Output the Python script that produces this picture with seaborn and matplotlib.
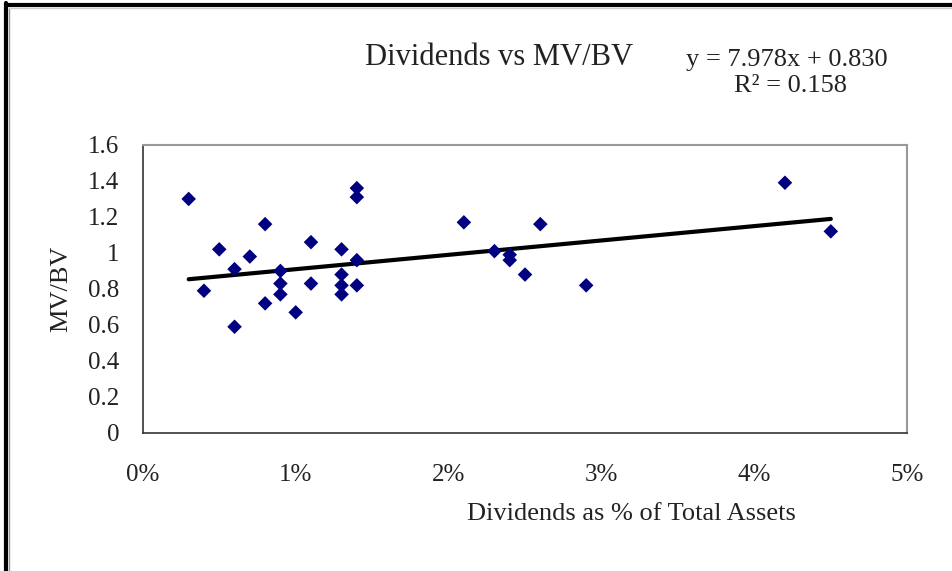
import matplotlib
matplotlib.use("Agg")
import matplotlib.pyplot as plt
import matplotlib.ticker as mticker
from matplotlib.lines import Line2D
import pandas as pd
import seaborn as sns

# 数据：股息占总资产比例 与 MV/BV
dividend_pct = [0.003, 0.004, 0.005, 0.006, 0.006, 0.007, 0.008, 0.008,
                0.009, 0.009, 0.009, 0.010, 0.011, 0.011,
                0.013, 0.013, 0.013, 0.013, 0.014, 0.014, 0.014, 0.014,
                0.021, 0.023, 0.024, 0.024, 0.025, 0.026, 0.029, 0.042, 0.045]
mv_bv = [1.30, 0.79, 1.02, 0.91, 0.59, 0.98, 1.16, 0.72,
         0.90, 0.83, 0.77, 0.67, 1.06, 0.83,
         1.02, 0.88, 0.82, 0.77, 1.36, 1.31, 0.96, 0.82,
         1.17, 1.01, 0.99, 0.96, 0.88, 1.16, 0.82, 1.39, 1.12]

# 图中给出的趋势线方程
slope = 7.978
intercept = 0.830

title_text = "Dividends vs MV/BV"
eq_line = "y = 7.978x + 0.830"
r2_line = "R\u00b2 = 0.158"
x_label = "Dividends as % of Total Assets"
y_label = "MV/BV"

df = pd.DataFrame({"div": dividend_pct, "mvbv": mv_bv})
trend = pd.DataFrame({"div": [min(dividend_pct), max(dividend_pct)]})
trend["mvbv"] = slope * trend["div"] + intercept

sns.set_theme(style="white")
plt.rcParams["font.family"] = ["Liberation Serif", "DejaVu Serif"]

fig = plt.figure(figsize=(9.52, 5.71), dpi=100)
ax = fig.add_axes([0.150, 0.2417, 0.803, 0.5045])

sns.lineplot(data=trend, x="div", y="mvbv", ax=ax, color="black", lw=3, zorder=2)
sns.scatterplot(data=df, x="div", y="mvbv", ax=ax, marker="D", color="#000080",
                s=55, edgecolor="none", alpha=1, zorder=3)

ax.set_xlim(0, 0.05)
ax.set_ylim(0, 1.6)
ax.xaxis.set_major_locator(mticker.MultipleLocator(0.01))
ax.yaxis.set_major_locator(mticker.MultipleLocator(0.2))
ax.xaxis.set_major_formatter(mticker.FuncFormatter(lambda v, p: f"{v*100:.0f}%"))
ax.yaxis.set_major_formatter(mticker.FuncFormatter(lambda v, p: f"{v:g}"))
ax.tick_params(axis="both", direction="out", length=5, width=1, color="#333333",
               labelsize=18, colors="#222222")
ax.tick_params(axis="x", pad=17)
ax.tick_params(axis="y", pad=12)

for side in ["left", "bottom"]:
    ax.spines[side].set_color("#333333")
    ax.spines[side].set_linewidth(1.2)
for side in ["top", "right"]:
    ax.spines[side].set_color("#999999")
    ax.spines[side].set_linewidth(1.5)

ax.set_xlabel(x_label, fontsize=19, color="#222222")
ax.set_ylabel(y_label, fontsize=19, color="#222222")
ax.xaxis.set_label_coords(0.639, -0.243)
ax.yaxis.set_label_coords(-0.092, 0.5)

fig.text(499 / 952, 1 - 65 / 571, title_text, fontsize=22, ha="center", va="baseline",
         color="#222222")
fig.text(787 / 952, 1 - 66 / 571, eq_line, fontsize=19, ha="center", va="baseline",
         color="#222222")
fig.text(791 / 952, 1 - 92 / 571, r2_line, fontsize=19, ha="center", va="baseline",
         color="#222222")

# 外框（截图边框）
fig.add_artist(Line2D([5.5 / 952, 5.5 / 952], [0, 1 - 3 / 571], color="black", lw=3,
                      transform=fig.transFigure))
fig.add_artist(Line2D([5.5 / 952, 1], [1 - 4.5 / 571, 1 - 4.5 / 571], color="black", lw=3,
                      transform=fig.transFigure))
fig.add_artist(Line2D([9 / 952, 9 / 952], [0, 1 - 8 / 571], color="#999999", lw=1,
                      transform=fig.transFigure))
fig.add_artist(Line2D([9 / 952, 1], [1 - 8 / 571, 1 - 8 / 571], color="#cccccc", lw=1,
                      transform=fig.transFigure))

fig.savefig("out.png", dpi=100)
